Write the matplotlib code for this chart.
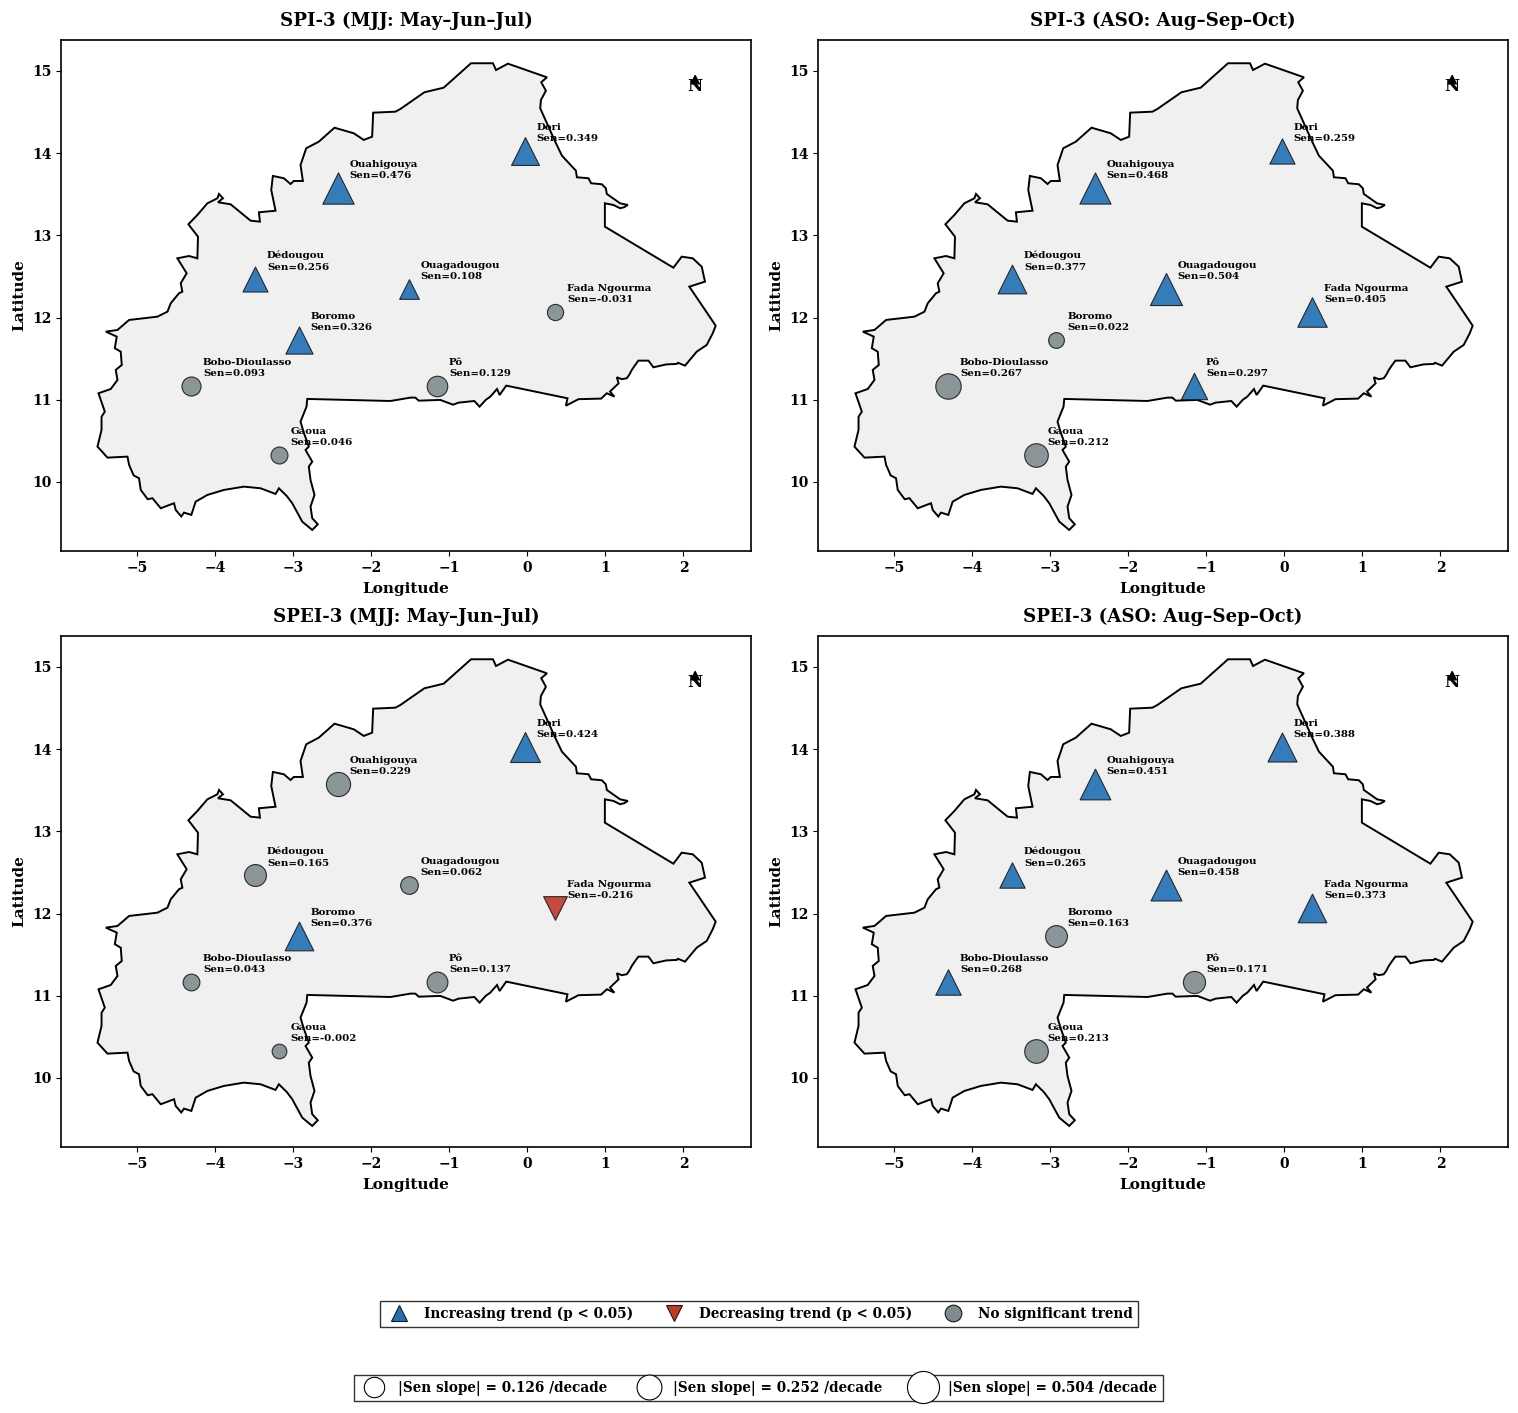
import numpy as np
import matplotlib
matplotlib.use("Agg")
import matplotlib.pyplot as plt
from matplotlib.lines import Line2D

plt.rcParams["font.family"] = "DejaVu Serif"
plt.rcParams["font.weight"] = "bold"

# border of the country, lon/lat
border_lon = [-0.72, -0.439, -0.40, -0.247, 0.252, 0.179, 0.239, 0.175, 0.166, 0.252, 0.358, 0.444, 0.623, 0.636,
              0.784, 0.818, 0.955, 1.006, 1.019, 1.189, 1.288, 1.24, 1.189, 1.104, 0.994, 0.994, 1.871, 1.978,
              2.119, 2.234, 2.276, 2.075, 2.191, 2.413, 2.375, 2.298, 2.17, 2.02, 1.93, 1.914, 1.78, 1.615, 1.58,
              1.551, 1.423, 1.38, 1.339, 1.31, 1.275, 1.21, 1.147, 1.17, 1.104, 1.06, 1.116, 1.019, 0.946, 0.656,
              0.495, 0.515, -0.269, -0.354, -0.387, -0.473, -0.53, -0.61, -0.678, -0.879, -0.95, -1.113, -1.39,
              -1.432, -1.496, -1.752, -2.817, -2.826, -2.903, -2.864, -2.797, -2.839, -2.753, -2.797, -2.775,
              -2.724, -2.775, -2.753, -2.682, -2.753, -2.881, -3.009, -3.08, -3.18, -3.223, -3.414, -3.628,
              -3.884, -4.096, -4.246, -4.301, -4.395, -4.43, -4.501, -4.523, -4.693, -4.799, -4.86, -4.949, -4.971,
              -5.04, -5.098, -5.119, -5.375, -5.503, -5.451, -5.451, -5.409, -5.49, -5.333, -5.247, -5.269, -5.192,
              -5.205, -5.281, -5.256, -5.396, -5.247, -5.098, -4.735, -4.607, -4.565, -4.459, -4.416, -4.437,
              -4.361, -4.48, -4.331, -4.224, -4.216, -4.339, -4.224, -4.096, -3.968, -3.947, -3.896, -3.96, -3.798,
              -3.542, -3.423, -3.436, -3.223, -3.278, -3.257, -3.116, -3.031, -2.989, -2.873, -2.903, -2.83, -2.669,
              -2.468, -2.221, -2.093, -1.986, -1.973, -1.688, -1.624, -1.317, -1.07]
border_lat = [15.094, 15.094, 15.012, 15.089, 14.923, 14.863, 14.76, 14.647, 14.546, 14.364, 14.14, 13.97, 13.787,
              13.707, 13.695, 13.634, 13.622, 13.573, 13.504, 13.39, 13.37, 13.342, 13.33, 13.37, 13.39, 13.106,
              12.607, 12.741, 12.721, 12.619, 12.437, 12.376, 12.214, 11.901, 11.809, 11.667, 11.585, 11.415,
              11.45, 11.436, 11.43, 11.395, 11.44, 11.476, 11.476, 11.42, 11.363, 11.31, 11.262, 11.25, 11.274,
              11.2, 11.14, 11.1, 11.038, 11.079, 11.014, 11.007, 10.928, 11.018, 11.172, 11.058, 11.131, 11.038,
              11.0, 10.916, 10.985, 10.965, 10.94, 10.998, 10.989, 11.026, 11.026, 10.985, 11.01, 10.916, 10.734,
              10.608, 10.43, 10.389, 10.247, 10.186, 10.024, 9.842, 9.7, 9.559, 9.485, 9.416, 9.517, 9.741, 9.83,
              9.923, 9.854, 9.923, 9.943, 9.903, 9.842, 9.76, 9.599, 9.627, 9.58, 9.659, 9.741, 9.68, 9.802, 9.79,
              9.903, 10.045, 10.08, 10.207, 10.308, 10.296, 10.43, 10.633, 10.794, 10.855, 11.079, 11.131, 11.241,
              11.363, 11.423, 11.585, 11.627, 11.768, 11.829, 11.849, 11.971, 12.011, 12.072, 12.174, 12.296,
              12.315, 12.417, 12.539, 12.721, 12.749, 12.721, 12.984, 13.135, 13.248, 13.39, 13.451, 13.504,
              13.451, 13.403, 13.378, 13.179, 13.167, 13.281, 13.3, 13.552, 13.723, 13.695, 13.625, 13.662, 13.662,
              13.856, 14.06, 14.14, 14.31, 14.242, 14.161, 14.201, 14.493, 14.505, 14.538, 14.741, 14.797]

stations = ["Dori", "Ouahigouya", "Dédougou", "Ouagadougou", "Fada Ngourma", "Boromo", "Bobo-Dioulasso", "Pô", "Gaoua"]
station_lon = [-0.03, -2.42, -3.48, -1.51, 0.36, -2.92, -4.30, -1.15, -3.18]
station_lat = [14.03, 13.58, 12.47, 12.35, 12.07, 11.73, 11.17, 11.17, 10.33]

titles = ["SPI-3 (MJJ: May–Jun–Jul)", "SPI-3 (ASO: Aug–Sep–Oct)", "SPEI-3 (MJJ: May–Jun–Jul)", "SPEI-3 (ASO: Aug–Sep–Oct)"]

# Sen slope per station, same order as stations
spi_mjj = [0.349, 0.476, 0.256, 0.108, -0.031, 0.326, 0.093, 0.129, 0.046]
spi_aso = [0.259, 0.468, 0.377, 0.504, 0.405, 0.022, 0.267, 0.297, 0.212]
spei_mjj = [0.424, 0.229, 0.165, 0.062, -0.216, 0.376, 0.043, 0.137, -0.002]
spei_aso = [0.388, 0.451, 0.265, 0.458, 0.373, 0.163, 0.268, 0.171, 0.213]

# 1 = increasing, -1 = decreasing, 0 = not significant
spi_mjj_trend = [1, 1, 1, 1, 0, 1, 0, 0, 0]
spi_aso_trend = [1, 1, 1, 1, 1, 0, 0, 1, 0]
spei_mjj_trend = [1, 0, 0, 0, -1, 1, 0, 0, 0]
spei_aso_trend = [1, 1, 1, 1, 1, 0, 1, 0, 0]

slopes = [spi_mjj, spi_aso, spei_mjj, spei_aso]
trends = [spi_mjj_trend, spi_aso_trend, spei_mjj_trend, spei_aso_trend]
size_legend = [0.126, 0.252, 0.504]

BLUE = "#2171b5"
RED = "#c0392b"
GREY = "#7f8c8d"
MARKERS = {1: ("^", BLUE), -1: ("v", RED), 0: ("o", GREY)}


def marker_size(value):
    return 110 + 840 * abs(value)


fig = plt.figure(figsize=(15.18, 14.13), dpi=100)

for i in range(4):
    left = [61, 818][i % 2] / 1518
    top = [40, 636][i // 2]
    ax = fig.add_axes([left, 1 - (top + 511) / 1413, 690 / 1518, 511 / 1413])
    ax.fill(border_lon, border_lat, facecolor="#f0f0f0", edgecolor="black", linewidth=1.4, zorder=1)
    for j, name in enumerate(stations):
        marker, color = MARKERS[trends[i][j]]
        ax.scatter(station_lon[j], station_lat[j], s=marker_size(slopes[i][j]), marker=marker, c=color,
                   edgecolors="#1a1a1a", linewidths=0.8, alpha=0.9, zorder=3)
        ax.annotate(f"{name}\nSen={slopes[i][j]:.3f}", (station_lon[j], station_lat[j]), xytext=(8.3, 5.3),
                    textcoords="offset points", fontsize=7.4, fontweight="bold", va="bottom", linespacing=1.38,
                    zorder=4)
    ax.annotate("N", xy=(2.15, 14.945), xytext=(2.15, 14.76), ha="center", fontsize=12, fontweight="bold",
                arrowprops=dict(facecolor="black", edgecolor="black", width=1, headwidth=6, headlength=6))
    ax.set_xlim(-5.97, 2.865)
    ax.set_ylim(9.16, 15.377)
    ax.set_xticks(np.arange(-5, 3))
    ax.set_yticks(np.arange(10, 16))
    ax.tick_params(labelsize=10)
    ax.set_xlabel("Longitude", fontsize=11, fontweight="bold", labelpad=5.3)
    ax.set_ylabel("Latitude", fontsize=11, fontweight="bold")
    ax.set_title(titles[i], fontsize=13.1, fontweight="bold", pad=10)
    for spine in ax.spines.values():
        spine.set_linewidth(1.2)

trend_handles = [
    Line2D([], [], linestyle="none", marker="^", markersize=12, markerfacecolor=BLUE, markeredgecolor="#1a1a1a",
           markeredgewidth=0.8, label="Increasing trend (p < 0.05)"),
    Line2D([], [], linestyle="none", marker="v", markersize=12, markerfacecolor=RED, markeredgecolor="#1a1a1a",
           markeredgewidth=0.8, label="Decreasing trend (p < 0.05)"),
    Line2D([], [], linestyle="none", marker="o", markersize=12, markerfacecolor=GREY, markeredgecolor="#1a1a1a",
           markeredgewidth=0.8, label="No significant trend"),
]
size_handles = [
    Line2D([], [], linestyle="none", marker="o", markersize=np.sqrt(marker_size(v)), markerfacecolor="white",
           markeredgecolor="black", markeredgewidth=0.8, label=f"|Sen slope| = {v} /decade")
    for v in size_legend
]

leg1 = fig.legend(handles=trend_handles, loc="center", bbox_to_anchor=(759 / 1518, 1 - 1314 / 1413), ncol=3,
                  fontsize=9.85, frameon=True, fancybox=False, edgecolor="#333333", framealpha=1)
leg2 = fig.legend(handles=size_handles, loc="center", bbox_to_anchor=(758.5 / 1518, 1 - 1388 / 1413), ncol=3,
                  fontsize=9.85, frameon=True, fancybox=False, edgecolor="#333333", framealpha=1)

fig.savefig("out.png", dpi=100)
